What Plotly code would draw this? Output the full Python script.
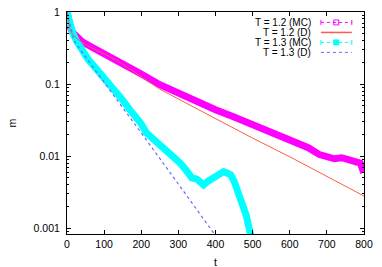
import plotly.graph_objects as go

# ---- data ----
t_mc12 = [0, 3, 8, 15, 25, 40, 60, 80, 100, 130, 160, 200, 250, 300, 350, 400, 450, 500,
          550, 600, 628, 650, 680, 700, 720, 740, 760, 780, 790, 795, 800]
m_mc12 = [1.0, 0.8, 0.62, 0.52, 0.45, 0.39, 0.34, 0.30, 0.27, 0.225, 0.18, 0.138, 0.098,
          0.074, 0.057, 0.044, 0.035, 0.027, 0.0213, 0.0167, 0.0144, 0.0131, 0.0105,
          0.0098, 0.0092, 0.0095, 0.0088, 0.0085, 0.0080, 0.0068, 0.0072]

t_d12 = [0, 3, 8, 15, 25, 40, 60, 80, 100, 130, 160, 200, 250, 300, 400, 500, 600, 700, 800]
m_d12 = [1.0, 0.76, 0.575, 0.49, 0.436, 0.38, 0.33, 0.295, 0.263, 0.219, 0.174, 0.126,
         0.085, 0.062, 0.033, 0.0178, 0.0098, 0.0052, 0.0028]

t_mc13 = [0, 3, 8, 15, 25, 40, 57, 80, 100, 120, 136, 150, 168, 186, 200, 214, 235, 259,
          280, 305, 320, 336, 350, 368, 380, 395, 410, 422, 432, 441, 450, 459, 468, 477,
          483, 487, 490, 495]
m_mc13 = [1.0, 0.85, 0.68, 0.52, 0.40, 0.30, 0.22, 0.16, 0.123, 0.095, 0.075, 0.06, 0.045,
          0.035, 0.028, 0.021, 0.017, 0.013, 0.0105, 0.008, 0.0065, 0.005, 0.0048, 0.004,
          0.0045, 0.005, 0.0058, 0.0061, 0.0058, 0.0055, 0.0045, 0.0034, 0.0027, 0.002,
          0.0015, 0.0012, 0.00095, 0.0008]

t_d13 = [0, 2, 5, 10, 18, 30, 50, 100, 150, 200, 250, 300, 350, 400]
m_d13 = [1.0, 0.89, 0.78, 0.63, 0.41, 0.33, 0.24, 0.107, 0.047, 0.021, 0.0091, 0.0041,
         0.0018, 0.00079]

legend_labels = ["T = 1.2 (MC)", "T = 1.2 (D)", "T = 1.3 (MC)", "T = 1.3 (D)"]
x_ticks = [0, 100, 200, 300, 400, 500, 600, 700, 800]
y_ticks = [0.001, 0.01, 0.1, 1]
y_ticktext = ["0.001", "0.01", "0.1", "1"]
x_title = "t"
y_title = "m"

MAG = "#ff00ff"
RED = "#ff5a4a"
CYAN = "#00ffff"
BLUE = "#6a6aff"
FONT = "Liberation Sans, Arial, sans-serif"

fig = go.Figure()
fig.add_trace(go.Scatter(x=t_mc12, y=m_mc12, mode="lines",
                         line=dict(color=MAG, width=7), showlegend=False))
fig.add_trace(go.Scatter(x=t_mc13, y=m_mc13, mode="lines",
                         line=dict(color=CYAN, width=7), showlegend=False))
fig.add_trace(go.Scatter(x=t_d12, y=m_d12, mode="lines",
                         line=dict(color=RED, width=1), showlegend=False))
fig.add_trace(go.Scatter(x=t_d13, y=m_d13, mode="lines",
                         line=dict(color=BLUE, width=1.2, dash="dot"), showlegend=False))

# ---- gnuplot-style key (text left of sample) ----
rows_y = [0.953, 0.908, 0.863, 0.818]
x0, x1, xc = 0.855, 0.959, 0.9066
dx, dy = 0.0084, 0.0113
shapes = []
annotations = []
styles = [
    dict(color=MAG, dash="dot", err=True, sq="open"),
    dict(color=RED, dash="solid", err=False, sq=None),
    dict(color=CYAN, dash="dot", err=True, sq="fill"),
    dict(color=BLUE, dash="dot", err=False, sq=None),
]
for lab, yy, st in zip(legend_labels, rows_y, styles):
    annotations.append(dict(x=0.829, y=yy, xref="paper", yref="paper", text=lab,
                            showarrow=False, xanchor="right", yanchor="middle",
                            font=dict(family=FONT, size=10, color="#000")))
    shapes.append(dict(type="line", xref="paper", yref="paper", x0=x0, x1=x1, y0=yy, y1=yy,
                       line=dict(color=st["color"], width=1.5 if st["dash"] == "solid" else 1,
                                 dash=st["dash"])))
    if st["err"]:
        for xe in (x0, x1):
            shapes.append(dict(type="line", xref="paper", yref="paper", x0=xe, x1=xe,
                               y0=yy - 0.011, y1=yy + 0.011,
                               line=dict(color=st["color"], width=1)))
    if st["sq"]:
        shapes.append(dict(type="rect", xref="paper", yref="paper",
                           x0=xc - dx, x1=xc + dx, y0=yy - dy, y1=yy + dy,
                           line=dict(color=st["color"], width=1),
                           fillcolor=st["color"] if st["sq"] == "fill" else "rgba(0,0,0,0)"))

# x-axis title as annotation for exact placement
annotations.append(dict(x=0.5, y=-0.125, xref="paper", yref="paper", text=x_title,
                        showarrow=False, xanchor="center", yanchor="middle",
                        font=dict(family=FONT, size=10.5, color="#000")))

fig.update_layout(
    width=382, height=267,
    margin=dict(l=67, r=18, t=12, b=33),
    paper_bgcolor="white", plot_bgcolor="white",
    font=dict(family=FONT, size=10.5, color="#000"),
    shapes=shapes, annotations=annotations,
    showlegend=False,
)
fig.update_xaxes(range=[0, 800], tickvals=x_ticks, ticks="inside", ticklen=4,
                 tickcolor="#000", showline=True, linecolor="#000", linewidth=1,
                 mirror="allticks", showgrid=False, zeroline=False, automargin=False)
fig.update_yaxes(type="log", range=[-3.08, 0], tickvals=y_ticks, ticktext=y_ticktext,
                 ticks="inside", ticklen=4, tickcolor="#000", showline=True,
                 linecolor="#000", linewidth=1, mirror="allticks", showgrid=False,
                 zeroline=False, ticklabelstandoff=4, automargin=False,
                 minor=dict(ticks="inside", ticklen=2, tickcolor="#000", dtick="D1",
                            showgrid=False),
                 title=dict(text=y_title, standoff=14, font=dict(size=10.5)))

fig.write_html("out.html", config={"displayModeBar": False},
               post_script="document.body.style.margin='0';document.body.style.overflow='hidden';")
